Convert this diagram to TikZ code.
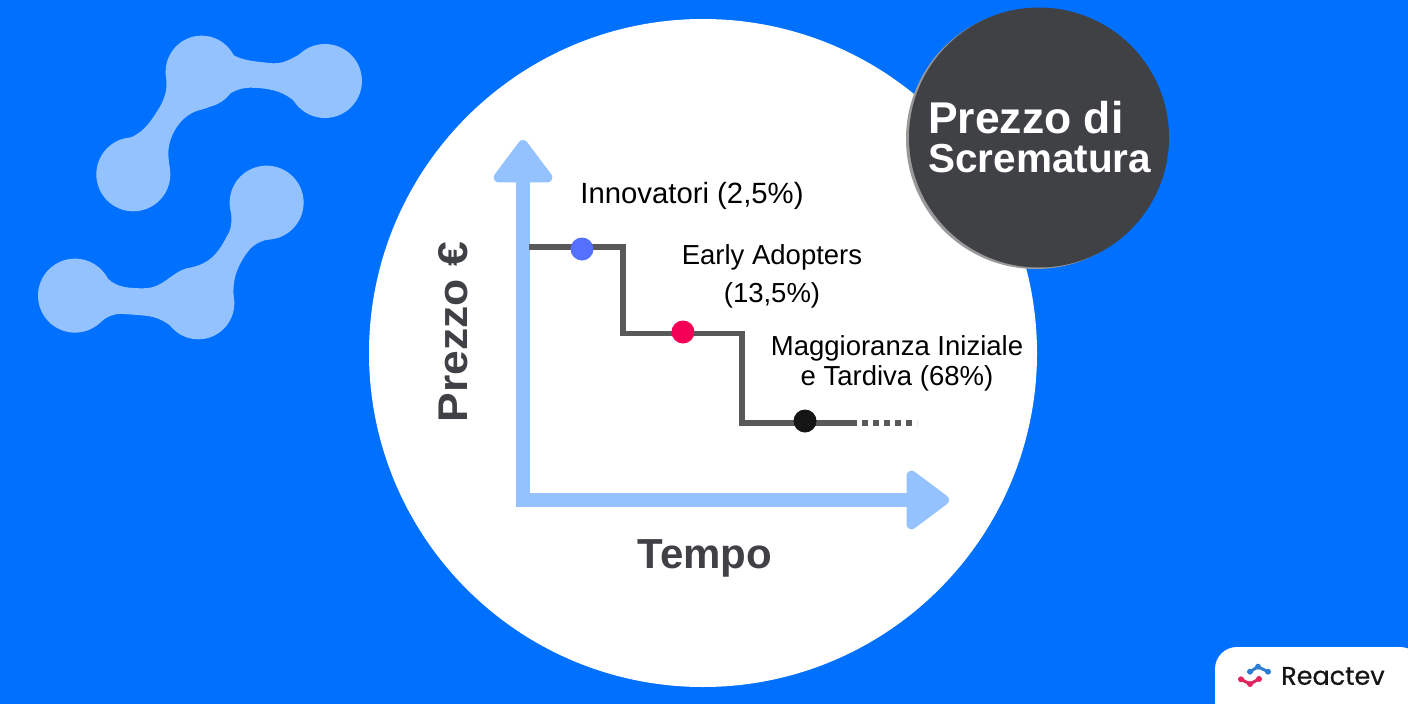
\documentclass[tikz,border=0pt]{standalone}
\usepackage{fontspec}
\setmainfont{Liberation Sans}
\newfontfamily\widefont[FakeStretch=1.07]{Liberation Sans}
\newfontfamily\logofont[FakeBold=0.6]{Poppins}
\usetikzlibrary{arrows.meta}
\definecolor{bgblue}{HTML}{0070FF}
\definecolor{paleblue}{HTML}{94C2FF}
\definecolor{darkdisc}{HTML}{404145}
\definecolor{stepgray}{HTML}{595959}
\definecolor{dotblue}{HTML}{5470FF}
\definecolor{dotpink}{HTML}{F50057}
\definecolor{dotblack}{HTML}{151515}
\definecolor{logoblue}{HTML}{2D7DD2}
\definecolor{logopink}{HTML}{E0245E}
\begin{document}
\begin{tikzpicture}
        [x=1pt, y=-1pt,
        axisline/.style={draw=paleblue, line width=14.5pt, {Triangle[length=46pt, width=66pt, round, line width=10pt]}-{Triangle[length=46pt, width=66pt, round, line width=10pt]}},
        stepline/.style={draw=stepgray, line width=5.5pt},
        marker/.style={circle, inner sep=0pt, minimum size=23pt},
        caption/.style={align=center, inner sep=0pt, font=\fontsize{27.5}{30}\selectfont},
        axistitle/.style={inner sep=0pt, text=darkdisc, font=\bfseries\fontsize{42}{42}\selectfont},
        blob/.style={fill=paleblue}]
        \path [use as bounding box, fill=bgblue] (0,0) rectangle (1408,704);
        % background shapes
        \begin{scope}[x=0.3333pt, y=-0.3333pt, xshift=20pt, yshift=-20pt]
            \fill [blob] (545,155) circle [radius=108pt*0.3333] (915,183) circle [radius=111pt*0.3333] (340,463) circle [radius=111pt*0.3333];
            \fill [blob] (600,70) .. controls (640,120) and (680,122) .. (760,130) .. controls (800,132) and (830,105) .. (880,80) -- (915,183) -- (860,280) .. controls (810,225) and (780,205) .. (690,203) .. controls (620,205) and (600,258) .. (540,270) .. controls (480,285) and (445,350) .. (445,400) .. controls (445,420) and (450,440) .. (450,463) -- (340,463) -- (310,360) .. controls (370,345) and (395,300) .. (420,260) .. controls (445,215) and (440,190) .. (437,155) -- cycle;
            \fill [blob] (740,548) circle [radius=111pt*0.3333] (165,827) circle [radius=111pt*0.3333] (535,850) circle [radius=108pt*0.3333];
            \fill [blob] (630,548) .. controls (635,590) and (640,620) .. (620,650) .. controls (590,710) and (560,735) .. (500,745) .. controls (450,760) and (430,805) .. (370,805) .. controls (300,805) and (270,795) .. (240,745) -- (165,827) -- (230,915) .. controls (260,890) and (280,880) .. (310,882) .. controls (390,888) and (410,885) .. (462,925) -- (535,850) -- (643,850) .. controls (635,790) and (645,750) .. (680,700) .. controls (705,665) and (730,660) .. (780,652) -- (740,548) -- cycle;
        \end{scope}
        \fill [white] (703,353) circle [radius=334pt];
        \fill [white, rounded corners=22pt] (1215,740) rectangle (1422,647);
        % badge
        \fill [gray!80] (1036,139) circle [radius=130pt];
        \fill [darkdisc] (1039,137.5) circle [radius=130pt];
        \node (badge) [anchor=west, align=left, inner sep=0pt, text=white, font=\bfseries] at (928,137)
            {\fontsize{44.5}{40}\selectfont Prezzo di\\[9pt]\fontsize{40.5}{40}\selectfont Scrematura};
        % axes
        \coordinate (ytip) at (523,140);
        \coordinate (origin) at (523,500);
        \coordinate (xtip) at (949,500);
        \draw [axisline] (ytip) -- (origin) -- (xtip);
        \node (tempo) [axistitle] at (705,558) {Tempo};
        \node (prezzo) [axistitle, rotate=90, font=\widefont\bfseries\fontsize{41.5}{41.5}\selectfont] at (453,332) {Prezzo €};
        % price steps
        \coordinate (s0) at (529,247);
        \coordinate (s1) at (623,247);
        \coordinate (s2) at (623,333.5);
        \coordinate (s3) at (742,333.5);
        \coordinate (s4) at (742,423);
        \coordinate (s5) at (851,423);
        \coordinate (s6) at (917,423);
        \draw [stepline] (s0) -- (s1) -- (s2) -- (s3) -- (s4) -- (s5);
        \draw [stepline, dash pattern=on 5.5pt off 5.5pt] (s5) -- (s6);
        \node (innovatori) [marker, fill=dotblue] at (582,249) {};
        \node (early) [marker, fill=dotpink] at (683,332) {};
        \node (late) [marker, fill=dotblack] at (805,421) {};
        \node (l1) [caption, font=\fontsize{29.3}{30}\selectfont] at (692,196) {Innovatori (2,5\%)};
        \node (l2) [caption, font=\fontsize{27.5}{38}\selectfont] at (772,276) {Early Adopters\\(13,5\%)};
        \node (l3) [caption] at (897,363) {Maggioranza Iniziale\\e Tardiva (68\%)};
        % logo
        \coordinate (b1) at (1250,671.7);
        \coordinate (b2) at (1258,666.7);
        \coordinate (b3) at (1268,671.7);
        \coordinate (p1) at (1241,679.3);
        \coordinate (p2) at (1250,684);
        \coordinate (p3) at (1259,679);
        \draw [line width=3pt, logoblue] (b1) -- (b2) -- (b3);
        \draw [line width=3pt, logopink] (p1) -- (p2) -- (p3);
        \fill [logoblue] (b1) circle [radius=3pt] (b2) circle [radius=3pt] (b3) circle [radius=3pt];
        \fill [logopink] (p1) circle [radius=3pt] (p2) circle [radius=3pt] (p3) circle [radius=3pt];
        \node (brand) [inner sep=0pt, anchor=west, text=dotblack, font=\logofont\fontsize{25.5}{25}\selectfont] at (1281,676) {Reactev};
    \end{tikzpicture}
\end{document}
